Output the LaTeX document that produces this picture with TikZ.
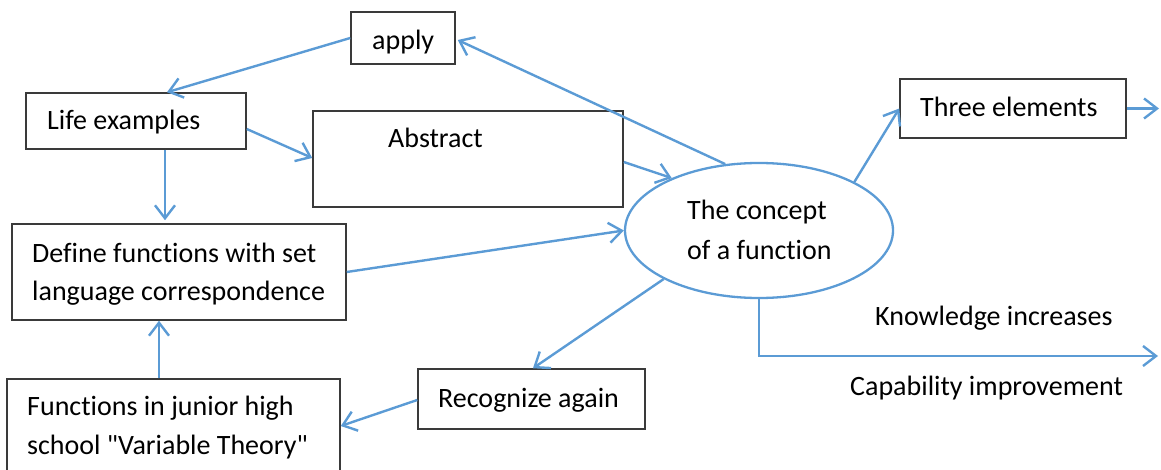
\documentclass[tikz,border=0pt]{standalone}
\usepackage{fontspec}
\setmainfont{Carlito}[Ligatures={TeXOff,NoCommon}]
\usetikzlibrary{arrows.meta,shapes.geometric,calc}
\definecolor{lineblue}{HTML}{5B9BD5}
\definecolor{boxline}{HTML}{3A3A3A}
\begin{document}
\begin{tikzpicture}[x=1pt,y=-1pt,
  box/.style={draw=boxline, line width=1.5pt, inner sep=0pt},
  txt/.style={anchor=base west, inner sep=0pt, font=\fontsize{28}{39}\selectfont},
  conn/.style={draw=lineblue, line width=2.4pt, -{Straight Barb[length=13pt,width=20pt]}}]
\path[use as bounding box] (0,0) rectangle (1161,470);

% boxes
\node[box, minimum width=104pt, minimum height=52pt] (apply) at (403,38) {};
\node[box, minimum width=220pt, minimum height=56pt] (life) at (136,121) {};
\node[box, minimum width=310pt, minimum height=96pt] (abstract) at (468,159) {};
\node[box, minimum width=334pt, minimum height=96pt] (define) at (179,272) {};
\node[box, minimum width=333pt, minimum height=102pt] (junior) at (173.5,430) {};
\node[box, minimum width=227pt, minimum height=60pt] (recognize) at (531.5,399) {};
\node[box, minimum width=226pt, minimum height=59pt] (three) at (1013,108.5) {};
\node[ellipse, draw=lineblue, line width=2.3pt, minimum width=268pt, minimum height=135pt, inner sep=0pt] (concept) at (759,230.5) {};

% texts
\node[txt] (applyt) at (372,50) {apply};
\node[txt] (lifet) at (47,130) {Life examples};
\node[txt] (abstractt) at (388,148) {Abstract};
\node[txt] (definet1) at (32,262) {Define functions with set};
\node[txt] (definet2) at (32,300) {language correspondence};
\node[txt] (juniort1) at (27,415) {Functions in junior high};
\node[txt] (juniort2) at (27,454) {school "Variable Theory"};
\node[txt] (recognizet) at (438,407) {Recognize again};
\node[txt] (threet) at (920,117) {Three elements};
\node[txt] (conceptt1) at (687,220) {The concept};
\node[txt] (conceptt2) at (687,260) {of a function};
\node[txt] (knowt) at (875,325) {Knowledge increases};
\node[txt] (capt) at (850,395) {Capability improvement};

% helper coordinates
\coordinate (l1) at ($(life.south)+(29,0)$);
\coordinate (j1) at ($(junior.north)+(-14.5,0)$);
\coordinate (rt) at (1159,0);
\coordinate (br) at (1158,356);

% connectors
\draw[conn] (apply.west) -- ($(life.north)+(31,0)$);
\draw[conn] (concept.117) -- ($(apply.east)+(2,2)$);
\draw[conn] ($(life.east)+(0,8)$) -- ($(abstract.west)+(0,-1)$);
\draw[conn, shorten >=3pt] (l1) -- (l1 |- define.north);
\draw[conn] ($(abstract.east)+(0,3)$) -- (concept.149);
\draw[conn] (define.east) -- (concept.west);
\draw[conn] (concept.207) -- ($(recognize.north)+(1.5,0)$);
\draw[conn] ($(recognize.west)+(0,1)$) -- ($(junior.east)+(0,-4)$);
\draw[conn] (j1) -- (j1 |- define.south);
\draw[conn] (concept.27) -- (three.west);
\draw[conn] (three.east) -- (three.east -| rt);
\draw[conn] (concept.south) |- (br);
\end{tikzpicture}
\end{document}
